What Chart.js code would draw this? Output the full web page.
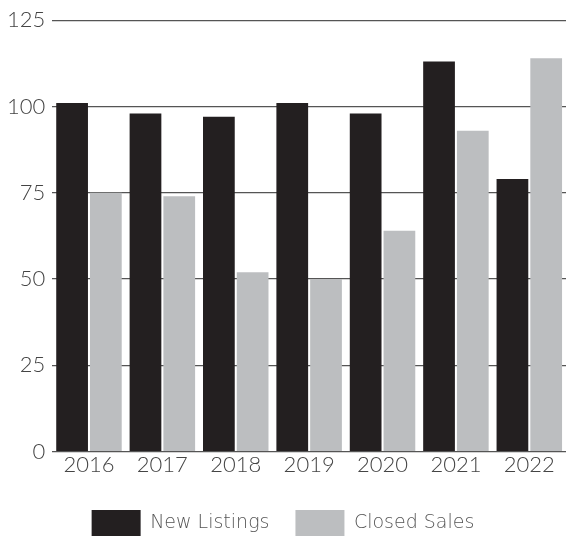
<!DOCTYPE html>
<html>
<head>
<meta charset="utf-8">
<script src="https://cdn.jsdelivr.net/npm/chart.js@4"></script>
<style>
  html, body { margin: 0; padding: 0; background: #fff; }
  #wrap { width: 566px; height: 536px; }
</style>
</head>
<body>
<div id="wrap"><canvas id="chart" width="566" height="536"></canvas></div>
<script>
const years = ['2016', '2017', '2018', '2019', '2020', '2021', '2022']
const newListings = [101, 98, 97, 101, 98, 113, 79]
const closedSales = [75, 74, 52, 50, 64, 93, 114]
const yTicks = [0, 25, 50, 75, 100, 125]

const tickFont = 'Lato, "Noto Sans", sans-serif'
const legendFont = '"DejaVu Sans", Lato, sans-serif'

new Chart(document.getElementById('chart'), {
    type: 'bar',
    data: {
        labels: years,
        datasets: [
            {
                label: 'New Listings',
                data: newListings,
                backgroundColor: '#231f20',
                categoryPercentage: 0.92,
                barPercentage: 0.94,
            },
            {
                label: 'Closed Sales',
                data: closedSales,
                backgroundColor: '#bcbec0',
                categoryPercentage: 0.92,
                barPercentage: 0.94,
            },
        ],
    },
    options: {
        responsive: false,
        animation: false,
        layout: { padding: { left: 0, right: 0, top: 11, bottom: -10 } },
        plugins: {
            tooltip: { enabled: false },
            legend: {
                position: 'bottom',
                labels: {
                    boxWidth: 49,
                    boxHeight: 26,
                    padding: 26,
                    color: '#555',
                    font: { family: legendFont, size: 19, weight: 200 },
                },
            },
        },
        scales: {
            x: {
                grid: { display: false, drawTicks: false },
                border: { display: false },
                afterFit: (axis) => { axis.height += 6 },
                ticks: {
                    color: '#444',
                    padding: 0,
                    font: { family: tickFont, size: 22, weight: 300 },
                },
            },
            y: {
                min: 0,
                max: 125,
                afterBuildTicks: (axis) => {
                    axis.ticks = yTicks.map(v => ({ value: v }))
                },
                grid: { color: '#555', lineWidth: 1.3, drawTicks: false },
                border: { display: false },
                ticks: {
                    color: '#444',
                    padding: 7,
                    font: { family: tickFont, size: 22, weight: 300 },
                },
            },
        },
    },
})
</script>
</body>
</html>
